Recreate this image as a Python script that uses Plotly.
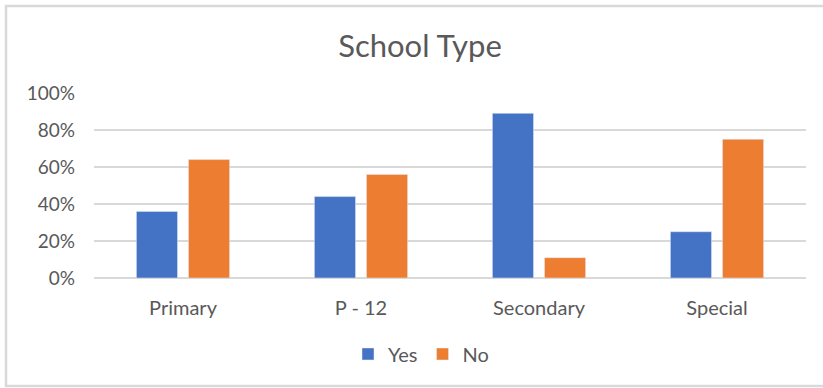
import plotly.graph_objects as go

categories = ["Primary", "P - 12", "Secondary", "Special"]
yes_values = [0.36, 0.44, 0.89, 0.25]
no_values = [0.64, 0.56, 0.11, 0.75]
y_ticks = [0, 0.2, 0.4, 0.6, 0.8, 1.0]
y_tick_labels = ["0%", "20%", "40%", "60%", "80%", "100%"]

FONT = "Lato"
GREY = "#595959"

W, H = 823, 388
L, R, T, B = 94, 806, 93, 278  # plot area pixel bounds

fig = go.Figure()
fig.add_trace(go.Bar(name="Yes", x=categories, y=yes_values, marker_color="#4472C4"))
fig.add_trace(go.Bar(name="No", x=categories, y=no_values, marker_color="#ED7D31"))

def px_x(p):
    return (p - L) / (R - L)

def px_y(p):
    return (B - p) / (B - T)

fig.update_layout(
    width=W, height=H,
    margin=dict(l=L, r=W - R, t=T, b=H - B, pad=0),
    paper_bgcolor="white", plot_bgcolor="white",
    barmode="group", bargap=0.415, bargroupgap=0.21,
    font=dict(family=FONT, color=GREY, size=18),
    title=dict(text="School Type", x=420 / W, xanchor="center",
               y=1 - 46 / H, yanchor="middle",
               font=dict(family=FONT, size=31, color=GREY)),
    showlegend=True,
    legend=dict(orientation="h", x=px_x(421), xanchor="center",
                y=px_y(354), yanchor="middle",
                font=dict(family=FONT, size=20, color=GREY),
                itemwidth=30, traceorder="normal"),
    xaxis=dict(showgrid=False, showline=False, zeroline=False,
               tickfont=dict(family=FONT, size=20, color=GREY),
               ticks="", ticklabelstandoff=16),
    yaxis=dict(range=[0, 1.0], tickvals=y_ticks, ticktext=y_tick_labels,
               showgrid=True, gridcolor="#D9D9D9", gridwidth=2,
               zeroline=True, zerolinecolor="#D9D9D9", zerolinewidth=2,
               showline=False, ticks="",
               tickfont=dict(family=FONT, size=19, color=GREY),
               ticklabelstandoff=18),
    shapes=[
        dict(type="rect", xref="paper", yref="paper",
             x0=px_x(6), x1=px_x(826), y0=px_y(386), y1=px_y(6),
             line=dict(color="#D9D9D9", width=2.5), fillcolor="rgba(0,0,0,0)",
             layer="below"),
    ],
)

fig.write_html("out.html")
